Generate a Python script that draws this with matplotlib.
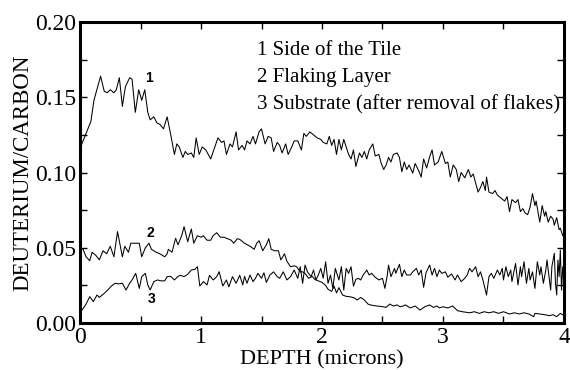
"""Deuterium/carbon depth profiles for three tile samples."""

import matplotlib
matplotlib.use("Agg")
import matplotlib.pyplot as plt
import matplotlib.ticker as ticker

# ---- data --------------------------------------------------------------
depth1 = [0.00, 0.04, 0.09, 0.115, 0.17, 0.20, 0.225, 0.25, 0.28, 0.30,
          0.325, 0.35, 0.375, 0.41, 0.43, 0.457, 0.485, 0.51, 0.535, 0.56,
          0.58, 0.61, 0.635, 0.66, 0.69, 0.72, 0.75, 0.78, 0.80, 0.82,
          0.85, 0.87, 0.89, 0.92, 0.94, 0.96, 0.985, 1.01, 1.04, 1.08,
          1.11, 1.14, 1.17, 1.19, 1.21, 1.24, 1.26, 1.29, 1.31, 1.34,
          1.36, 1.38, 1.405, 1.43, 1.45, 1.48, 1.50, 1.53, 1.555, 1.58,
          1.60, 1.63, 1.65, 1.67, 1.70, 1.72, 1.75, 1.77, 1.80, 1.83,
          1.85, 1.87, 1.90, 1.93, 1.96, 1.99, 2.01, 2.04, 2.06, 2.08,
          2.10, 2.12, 2.14, 2.16, 2.18, 2.20, 2.22, 2.24, 2.26, 2.28,
          2.31, 2.33, 2.35, 2.37, 2.39, 2.42, 2.44, 2.47, 2.49, 2.51,
          2.53, 2.55, 2.57, 2.59, 2.62, 2.64, 2.66, 2.68, 2.70, 2.72,
          2.75, 2.77, 2.80, 2.82, 2.84, 2.865, 2.89, 2.91, 2.93, 2.96,
          2.99, 3.02, 3.04, 3.06, 3.085, 3.11, 3.13, 3.15, 3.18, 3.21,
          3.23, 3.25, 3.27, 3.29, 3.31, 3.33, 3.35, 3.36, 3.38, 3.41,
          3.43, 3.45, 3.48, 3.51, 3.53, 3.55, 3.57, 3.60, 3.62, 3.64,
          3.66, 3.68, 3.70, 3.72, 3.74, 3.76, 3.77, 3.80, 3.82, 3.84,
          3.85, 3.87, 3.89, 3.91, 3.92, 3.94, 3.96, 3.97, 3.99, 4.00]
dc1 = [0.116, 0.124, 0.134, 0.148, 0.164, 0.154, 0.153, 0.155, 0.153, 0.155,
       0.163, 0.144, 0.157, 0.163, 0.162, 0.140, 0.155, 0.148, 0.155, 0.140,
       0.135, 0.137, 0.133, 0.132, 0.129, 0.137, 0.125, 0.112, 0.119, 0.117,
       0.110, 0.114, 0.112, 0.113, 0.110, 0.123, 0.112, 0.117, 0.115, 0.109,
       0.116, 0.123, 0.120, 0.121, 0.112, 0.119, 0.117, 0.127, 0.115, 0.118,
       0.115, 0.121, 0.119, 0.124, 0.119, 0.127, 0.129, 0.119, 0.124, 0.123,
       0.114, 0.120, 0.118, 0.113, 0.119, 0.112, 0.117, 0.121, 0.121, 0.115,
       0.126, 0.124, 0.127, 0.125, 0.123, 0.122, 0.120, 0.119, 0.124, 0.118,
       0.122, 0.112, 0.122, 0.115, 0.122, 0.117, 0.112, 0.109, 0.115, 0.104,
       0.113, 0.110, 0.114, 0.109, 0.115, 0.119, 0.111, 0.112, 0.106, 0.102,
       0.105, 0.110, 0.107, 0.112, 0.113, 0.110, 0.1005, 0.107, 0.102, 0.105,
       0.0995, 0.106, 0.101, 0.097, 0.109, 0.103, 0.1105, 0.115, 0.105, 0.107,
       0.114, 0.106, 0.107, 0.097, 0.105, 0.102, 0.094, 0.100, 0.0965, 0.102,
       0.097, 0.099, 0.093, 0.087, 0.090, 0.094, 0.088, 0.097, 0.087, 0.086,
       0.088, 0.085, 0.083, 0.081, 0.084, 0.074, 0.082, 0.080, 0.082, 0.074,
       0.076, 0.073, 0.072, 0.077, 0.086, 0.078, 0.081, 0.067, 0.078, 0.071,
       0.074, 0.067, 0.071, 0.069, 0.065, 0.070, 0.062, 0.063, 0.058, 0.060]

depth2 = [0.00, 0.025, 0.05, 0.08, 0.10, 0.13, 0.16, 0.19, 0.22, 0.25,
          0.28, 0.31, 0.35, 0.37, 0.40, 0.42, 0.45, 0.49, 0.51, 0.54,
          0.57, 0.59, 0.63, 0.66, 0.70, 0.72, 0.73, 0.76, 0.79, 0.81,
          0.84, 0.86, 0.89, 0.92, 0.94, 0.97, 1.00, 1.02, 1.05, 1.08,
          1.10, 1.13, 1.16, 1.19, 1.22, 1.25, 1.27, 1.30, 1.32, 1.36,
          1.405, 1.44, 1.46, 1.48, 1.51, 1.54, 1.56, 1.58, 1.61, 1.64,
          1.66, 1.69, 1.71, 1.74, 1.77, 1.79, 1.82, 1.84, 1.86, 1.89,
          1.92, 1.94, 1.97, 2.00, 2.03, 2.05, 2.08, 2.10, 2.12, 2.14,
          2.17, 2.20, 2.24, 2.27, 2.29, 2.32, 2.35, 2.38, 2.40, 2.45,
          2.49, 2.53, 2.56, 2.59, 2.62, 2.645, 2.67, 2.69, 2.73, 2.77,
          2.81, 2.85, 2.89, 2.92, 2.95, 2.97, 3.00, 3.04, 3.08, 3.12,
          3.16, 3.22, 3.26, 3.30, 3.34, 3.38, 3.42, 3.46, 3.50, 3.55,
          3.59, 3.63, 3.67, 3.71, 3.75, 3.76, 3.80, 3.84, 3.88, 3.91,
          3.94, 3.97, 4.00]
dc2 = [0.050, 0.049, 0.044, 0.0414, 0.047, 0.045, 0.042, 0.048, 0.046, 0.051,
       0.044, 0.0607, 0.044, 0.051, 0.047, 0.053, 0.053, 0.053, 0.044, 0.050,
       0.053, 0.049, 0.047, 0.046, 0.044, 0.046, 0.049, 0.047, 0.0563, 0.052,
       0.058, 0.064, 0.054, 0.0625, 0.053, 0.058, 0.057, 0.058, 0.055, 0.055,
       0.058, 0.060, 0.057, 0.057, 0.056, 0.055, 0.053, 0.056, 0.0556, 0.053,
       0.051, 0.049, 0.053, 0.0547, 0.048, 0.052, 0.056, 0.049, 0.048, 0.048,
       0.0419, 0.046, 0.041, 0.0374, 0.038, 0.0374, 0.034, 0.034, 0.033, 0.0297,
       0.031, 0.029, 0.028, 0.027, 0.025, 0.0224, 0.021, 0.0245, 0.020, 0.0235,
       0.0186, 0.0177, 0.0173, 0.0166, 0.0153, 0.017, 0.0153, 0.0126, 0.012, 0.0113,
       0.011, 0.0104, 0.0126, 0.0113, 0.012, 0.0108, 0.0113, 0.012, 0.010, 0.0113,
       0.0086, 0.0108, 0.012, 0.0104, 0.0113, 0.010, 0.0108, 0.010, 0.0113, 0.0082,
       0.0075, 0.0068, 0.0075, 0.0064, 0.0075, 0.0068, 0.0075, 0.0064, 0.0075, 0.006,
       0.0068, 0.006, 0.0068, 0.006, 0.0042, 0.0064, 0.006, 0.0055, 0.0049, 0.0055,
       0.0042, 0.0064, 0.005]

depth3 = [0.00, 0.017, 0.05, 0.08, 0.11, 0.14, 0.16, 0.20, 0.23, 0.26,
          0.29, 0.32, 0.35, 0.38, 0.41, 0.43, 0.46, 0.49, 0.51, 0.54,
          0.56, 0.58, 0.61, 0.64, 0.67, 0.70, 0.72, 0.75, 0.78, 0.81,
          0.83, 0.86, 0.89, 0.92, 0.95, 0.97, 0.99, 1.02, 1.05, 1.07,
          1.10, 1.13, 1.15, 1.18, 1.21, 1.23, 1.26, 1.29, 1.32, 1.345,
          1.36, 1.38, 1.405, 1.43, 1.45, 1.47, 1.50, 1.52, 1.54, 1.57,
          1.60, 1.63, 1.65, 1.68, 1.71, 1.74, 1.77, 1.80, 1.82, 1.84,
          1.86, 1.88, 1.91, 1.93, 1.95, 1.97, 1.99, 2.01, 2.03, 2.05,
          2.07, 2.09, 2.11, 2.14, 2.16, 2.18, 2.20, 2.22, 2.24, 2.26,
          2.28, 2.30, 2.32, 2.34, 2.36, 2.37, 2.39, 2.41, 2.44, 2.47,
          2.50, 2.52, 2.54, 2.55, 2.57, 2.60, 2.61, 2.64, 2.66, 2.68,
          2.70, 2.73, 2.75, 2.78, 2.80, 2.82, 2.84, 2.86, 2.89, 2.91,
          2.93, 2.95, 2.97, 2.99, 3.02, 3.04, 3.07, 3.10, 3.12, 3.15,
          3.18, 3.20, 3.22, 3.24, 3.27, 3.29, 3.31, 3.33, 3.36, 3.38,
          3.40, 3.42, 3.45, 3.47, 3.49, 3.50, 3.52, 3.54, 3.56, 3.57,
          3.60, 3.62, 3.64, 3.65, 3.67, 3.69, 3.71, 3.72, 3.74, 3.76,
          3.78, 3.80, 3.81, 3.83, 3.85, 3.86, 3.88, 3.89, 3.90, 3.92,
          3.93, 3.94, 3.95, 3.96, 3.97, 3.98, 3.99, 4.00]
dc3 = [0.008, 0.0086, 0.0126, 0.0175, 0.0142, 0.0186, 0.017, 0.0197, 0.022, 0.0246,
       0.0264, 0.026, 0.0264, 0.0219, 0.0264, 0.0286, 0.033, 0.023, 0.0308, 0.033,
       0.0253, 0.022, 0.0275, 0.0286, 0.028, 0.028, 0.0308, 0.031, 0.0286, 0.031,
       0.0317, 0.0308, 0.0324, 0.0352, 0.0357, 0.0374, 0.0246, 0.0275, 0.0253, 0.0317,
       0.0286, 0.0308, 0.0341, 0.0246, 0.0286, 0.024, 0.0308, 0.0264, 0.0317, 0.0253,
       0.031, 0.0264, 0.0319, 0.0275, 0.0297, 0.033, 0.0297, 0.0334, 0.027, 0.0319,
       0.034, 0.0308, 0.0297, 0.034, 0.0286, 0.0308, 0.0352, 0.0297, 0.0374, 0.0264,
       0.0385, 0.034, 0.0308, 0.0352, 0.0286, 0.0319, 0.0363, 0.0297, 0.0407, 0.0264,
       0.0319, 0.023, 0.0363, 0.0286, 0.0374, 0.0219, 0.0363, 0.033, 0.0374, 0.0245,
       0.029, 0.0297, 0.0286, 0.0319, 0.034, 0.0352, 0.0319, 0.033, 0.0304, 0.0286,
       0.0297, 0.023, 0.0319, 0.0385, 0.0308, 0.0363, 0.033, 0.039, 0.0308, 0.0352,
       0.0319, 0.0319, 0.034, 0.0363, 0.0319, 0.0352, 0.0237, 0.0335, 0.0385, 0.0319,
       0.0363, 0.0308, 0.0352, 0.033, 0.034, 0.0304, 0.0326, 0.0286, 0.0319, 0.0275,
       0.0297, 0.0319, 0.0363, 0.034, 0.0374, 0.0308, 0.034, 0.0286, 0.0186, 0.0308,
       0.033, 0.0297, 0.0352, 0.0319, 0.0363, 0.0286, 0.0374, 0.0308, 0.0352, 0.0275,
       0.0396, 0.0253, 0.0374, 0.0308, 0.0407, 0.0264, 0.0363, 0.0286, 0.034, 0.023,
       0.0407, 0.0319, 0.0374, 0.0264, 0.0352, 0.0419, 0.0286, 0.0219, 0.0374, 0.0463,
       0.0264, 0.0186, 0.0419, 0.0308, 0.0485, 0.0219, 0.0374, 0.030]

curve_tags = ["1", "2", "3"]
tag_pos = [(0.57, 0.163), (0.58, 0.060), (0.59, 0.016)]
legend_lines = ["1 Side of the Tile",
                "2 Flaking Layer",
                "3 Substrate (after removal of flakes)"]

# ---- figure -------------------------------------------------------------
plt.rcParams["font.family"] = ["Liberation Serif", "DejaVu Serif"]

fig = plt.figure(figsize=(5.7, 3.7), dpi=100)
ax = fig.add_axes([0.1404, 0.127, 0.849, 0.8135])

for xs, ys in [(depth1, dc1), (depth2, dc2), (depth3, dc3)]:
    ax.plot(xs, ys, color="black", lw=0.75)

for tag, (tx, ty) in zip(curve_tags, tag_pos):
    ax.text(tx, ty, tag, family="Liberation Sans", fontweight="bold",
            fontsize=10, ha="center", va="center")

for i, line in enumerate(legend_lines):
    ax.text(0.366, 0.905 - i * 0.09, line, transform=ax.transAxes,
            fontsize=15, ha="left", va="center")

ax.set_xlim(0, 4)
ax.set_ylim(0, 0.20)
ax.xaxis.set_major_locator(ticker.MultipleLocator(1))
ax.xaxis.set_minor_locator(ticker.MultipleLocator(0.5))
ax.yaxis.set_major_locator(ticker.MultipleLocator(0.05))
ax.yaxis.set_minor_locator(ticker.MultipleLocator(0.025))
ax.yaxis.set_major_formatter(ticker.FormatStrFormatter("%.2f"))
ax.tick_params(which="both", direction="in", top=True, right=True,
               width=1.0, labelsize=17)
ax.tick_params(which="major", length=5, pad=3)
ax.tick_params(which="minor", length=5)
for sp in ax.spines.values():
    sp.set_linewidth(2.2)

ax.set_xlabel("DEPTH (microns)", fontsize=16)
ax.set_ylabel("DEUTERIUM/CARBON", fontsize=16.5)
ax.xaxis.set_label_coords(0.5, -0.09)
ax.yaxis.set_label_coords(-0.097, 0.5)

fig.savefig("out.png", dpi=100)
